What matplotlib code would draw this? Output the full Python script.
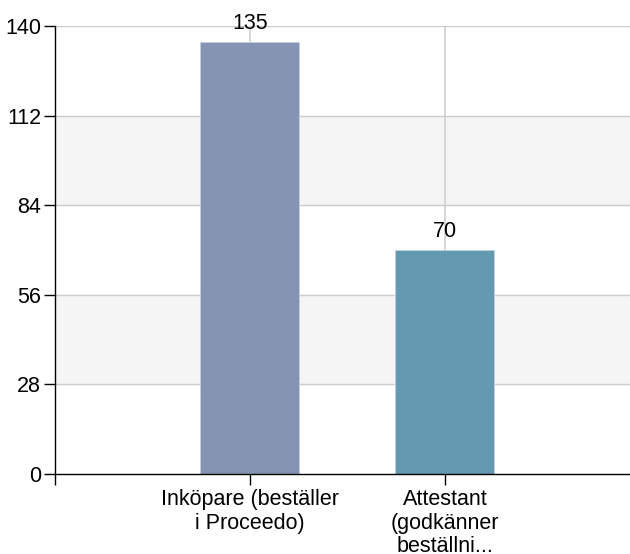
import matplotlib
matplotlib.use("Agg")
import matplotlib.pyplot as plt
import numpy as np

# --- Data ---
categories = ['Inköpare (beställer\ni Proceedo)', 'Attestant\n(godkänner\nbeställni...']
values = [135, 70]
bar_colors = ['#8594B3', '#639AB1']
y_ticks = [0, 28, 56, 84, 112, 140]

plt.rcParams['font.family'] = ['Liberation Sans', 'DejaVu Sans']

fig = plt.figure(figsize=(6.3, 5.54), dpi=100)
ax = fig.add_axes([55 / 630, 80 / 554, 575 / 630, 448 / 554])

x = np.arange(len(categories))

# alternating background bands
for i in range(len(y_ticks) - 1):
    if i % 2 == 1:
        ax.axhspan(y_ticks[i], y_ticks[i + 1], color='#f5f5f5', zorder=0)

for yt in y_ticks[1:]:
    ax.axhline(yt, color='#cccccc', linewidth=1, zorder=1)
for xi in x:
    ax.axvline(xi, color='#d0d0d0', linewidth=1.2, zorder=1)

bars = ax.bar(x, values, width=0.508, color=bar_colors, edgecolor='#c8cfdc',
              linewidth=0.6, zorder=2)

for xi, v in zip(x, values):
    ax.annotate(str(v), (xi, v), xytext=(0, 6), textcoords='offset points',
                ha='center', va='bottom', fontsize=15.5, color='#000000', zorder=3)

ax.set_xlim(-1, 1.95)
ax.set_ylim(0, 140)
ax.set_yticks(y_ticks)
ax.set_xticks(x)
ax.set_xticklabels(categories, fontsize=15.5, linespacing=1.14)
ax.set_xticks([-1], minor=True)
ax.tick_params(axis='y', labelsize=15.5, length=8, width=1, pad=2)
ax.tick_params(axis='x', which='both', length=8, width=1, pad=3)

for side in ['top', 'right']:
    ax.spines[side].set_visible(False)
ax.spines['left'].set_linewidth(1)
ax.spines['bottom'].set_linewidth(1)
ax.spines['left'].set_zorder(4)
ax.spines['bottom'].set_zorder(4)

fig.savefig('out.png', dpi=100)
